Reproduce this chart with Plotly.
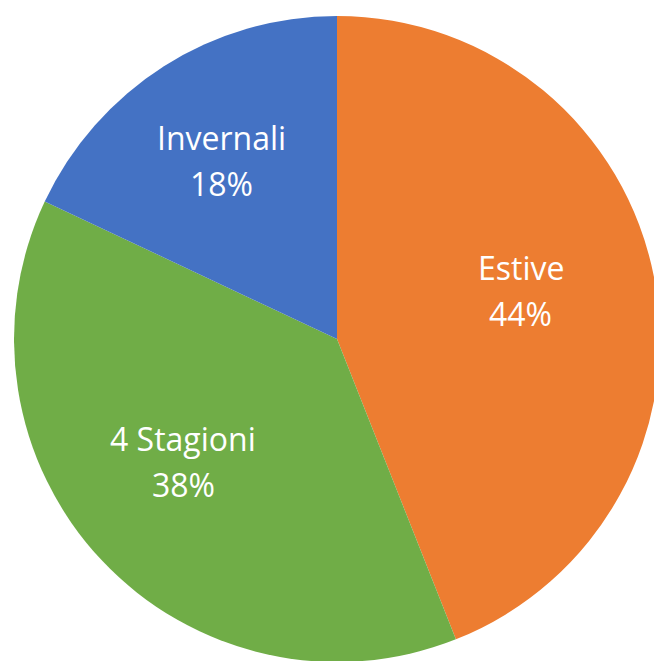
import math
import plotly.graph_objects as go

labels = ["Estive", "4 Stagioni", "Invernali"]
values = [44, 38, 18]
colors = ["#ED7D31", "#70AD47", "#4472C4"]

fig = go.Figure()
fig.add_trace(go.Pie(
    labels=labels,
    values=values,
    sort=False,
    direction="clockwise",
    rotation=0,
    marker=dict(colors=colors, line=dict(color="white", width=0)),
    textinfo="none",
    showlegend=False,
    hoverinfo="label+percent",
    domain=dict(x=[0, 1], y=[0, 1]),
))

# data labels placed along each slice's bisector (like Excel's "best fit")
total = sum(values)
cum = 0
label_font = dict(family="Open Sans", size=32, color="white")
for lab, v in zip(labels, values):
    mid = (cum + v / 2) / total * 2 * math.pi
    cum += v
    k = 0.61 * 0.5
    px = 0.5 + k * math.sin(mid)
    py = 0.5 + k * math.cos(mid)
    pct = f"{round(v / total * 100)}%"
    fig.add_annotation(x=px, y=py, xref="paper", yref="paper", text=lab,
                       showarrow=False, font=label_font, xshift=-10, yshift=35,
                       xanchor="center", yanchor="middle")
    fig.add_annotation(x=px, y=py, xref="paper", yref="paper", text=pct,
                       showarrow=False, font=label_font, xshift=-10, yshift=-11,
                       xanchor="center", yanchor="middle")

fig.update_layout(
    width=662, height=661,
    margin=dict(l=6, r=10, t=8, b=7),
    paper_bgcolor="white",
    plot_bgcolor="white",
)
fig.write_html("out.html")
